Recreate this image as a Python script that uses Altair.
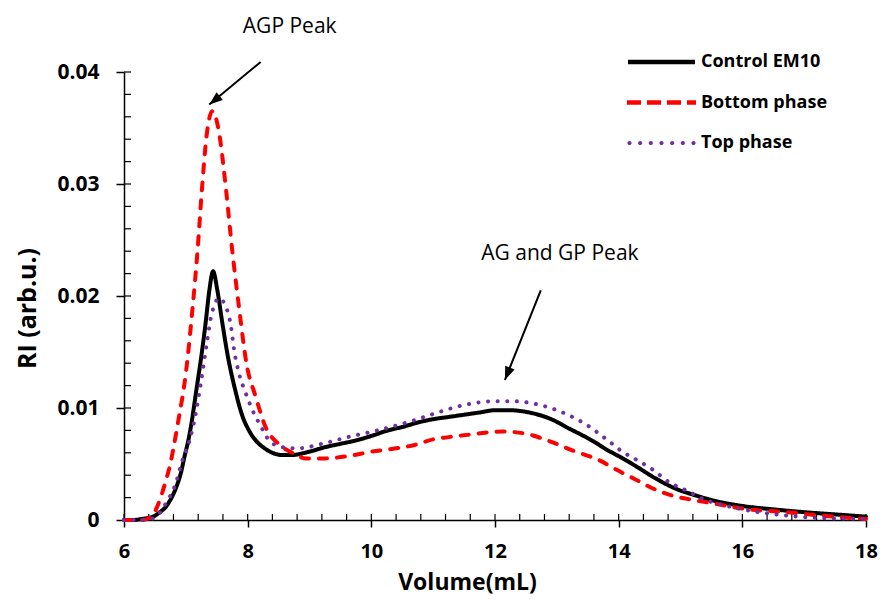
import altair as alt
import pandas as pd

# ---------------- data ----------------
series_names = ["Control EM10", "Bottom phase", "Top phase"]
series_colors = ["#000000", "#FF0000", "#7030A0"]
series_dash = [[1, 0], [8, 10], [0.1, 9.5]]

control_v = [6.0, 6.15, 6.3, 6.47, 6.58, 6.68, 6.77, 6.85, 6.92, 6.98, 7.04, 7.09, 7.17, 7.25,
             7.32, 7.38, 7.44, 7.51, 7.59, 7.68, 7.79, 7.92, 8.02, 8.13, 8.25, 8.4, 8.55, 8.7,
             9.0, 9.25, 9.5, 9.75, 10.0, 10.27, 10.5, 10.75, 11.0, 11.25, 11.5, 11.75, 12.0,
             12.25, 12.45, 12.7, 12.95, 13.15, 13.4, 13.6, 13.8, 14.0, 14.28, 14.6, 14.92,
             15.24, 15.56, 16.0, 16.5, 17.0, 17.5, 18.0]
control_ri = [0.0, 0.0, 0.0001, 0.0003, 0.0007, 0.0012, 0.0020, 0.0030, 0.0042, 0.0057, 0.0071,
              0.0086, 0.0116, 0.0146, 0.0176, 0.0205, 0.0222, 0.0205, 0.0176, 0.0146, 0.0118,
              0.0092, 0.0080, 0.0071, 0.0065, 0.0060, 0.0058, 0.0058, 0.0061, 0.0065, 0.0068,
              0.0071, 0.0075, 0.0080, 0.0083, 0.0087, 0.0090, 0.0092, 0.0094, 0.0096, 0.0098,
              0.0098, 0.0097, 0.0094, 0.0089, 0.0083, 0.0076, 0.0070, 0.0063, 0.0057, 0.0048,
              0.0037, 0.0028, 0.0022, 0.0017, 0.00125, 0.00095, 0.0007, 0.0005, 0.0003]

bottom_v = [6.0, 6.3, 6.44, 6.58, 6.66, 6.74, 6.87, 7.0, 7.11, 7.19, 7.26, 7.34, 7.43, 7.54,
            7.65, 7.75, 7.86, 7.98, 8.13, 8.29, 8.5, 8.72, 8.95, 9.25, 9.62, 10.0, 10.4, 10.7,
            11.0, 11.25, 11.55, 11.85, 12.12, 12.5, 12.85, 13.26, 13.7, 13.96, 14.28, 14.6,
            14.92, 15.19, 15.51, 16.1, 16.63, 17.17, 17.7, 18.0]
bottom_ri = [0.0, 0.0, 0.0003, 0.0018, 0.0032, 0.0048, 0.0086, 0.0131, 0.0190, 0.0241, 0.0295,
             0.0345, 0.0365, 0.0345, 0.0295, 0.0241, 0.0190, 0.0140, 0.0110, 0.0083, 0.0068,
             0.0060, 0.0055, 0.0055, 0.0057, 0.0061, 0.0064, 0.0067, 0.0072, 0.0074, 0.0076,
             0.0078, 0.0079, 0.0077, 0.0071, 0.0062, 0.0053, 0.0045, 0.0036, 0.0027, 0.0021,
             0.0018, 0.0015, 0.00095, 0.00074, 0.00045, 0.0002, 0.0001]

top_v = [6.0, 6.35, 6.52, 6.6, 6.68, 6.82, 6.95, 7.06, 7.17, 7.25, 7.34, 7.41, 7.54, 7.65,
         7.73, 7.78, 7.86, 7.97, 8.07, 8.2, 8.35, 8.56, 8.82, 9.2, 9.62, 10.1, 10.69, 11.02,
         11.45, 11.98, 12.3, 12.62, 13.05, 13.48, 13.85, 14.06, 14.28, 14.55, 14.81, 15.11,
         15.4, 15.72, 16.15, 16.63, 17.17, 17.97]
top_ri = [0.0, 0.0, 0.0003, 0.0008, 0.0015, 0.0030, 0.0054, 0.0071, 0.0098, 0.0125, 0.0158,
          0.0182, 0.0198, 0.0190, 0.0173, 0.0152, 0.0131, 0.0113, 0.0099, 0.0085, 0.0071,
          0.0065, 0.0064, 0.0068, 0.0074, 0.0080, 0.0089, 0.0095, 0.0102, 0.0106, 0.0106,
          0.0104, 0.0097, 0.0085, 0.0070, 0.0061, 0.0054, 0.0045, 0.0034, 0.0026, 0.0018,
          0.0013, 0.0008, 0.00045, 0.0002, 0.0001]

x_major = [6, 8, 10, 12, 14, 16, 18]
y_major = [0, 0.01, 0.02, 0.03, 0.04]
x_minor = [6 + 0.4 * i for i in range(31)]
y_minor = [0.002 * i for i in range(21)]

ann_labels = ["AGP Peak", "AG and GP Peak"]
ann_v = [8.68, 13.05]
ann_ri = [0.0440, 0.02375]

arrow_v0 = [8.21, 12.74]
arrow_ri0 = [0.0409, 0.0205]
arrow_v1 = [7.38, 12.16]
arrow_ri1 = [0.0371, 0.0125]
arrow_angle = [231, 202]

# ---------------- legend symbol glyphs (style only) ----------------
LEG_SIZE = 1550
R = LEG_SIZE ** 0.5 / 2.0  # unit -> px factor used by Vega for custom symbol paths


def u(px):
    return round(px / R, 4)


def rect(x0, x1, half=2.2):
    return f"M{u(x0)},{u(-half)}H{u(x1)}V{u(half)}H{u(x0)}Z"


def dot(cx, rad=2.1):
    return (f"M{u(cx - rad)},0a{u(rad)},{u(rad)} 0 1,0 {u(2 * rad)},0"
            f"a{u(rad)},{u(rad)} 0 1,0 {u(-2 * rad)},0Z")


glyph_solid = rect(-33.5, 33.5)
glyph_dash = "".join(rect(-34.5 + a, -34.5 + b) for a, b in [(0, 14), (20, 34), (40, 54), (60, 69)])
glyph_dot = "".join(dot(-32 + 10.67 * k) for k in range(7))
legend_glyphs = [glyph_solid, glyph_dash, glyph_dot]

# ---------------- build tables ----------------
rows = []
for name, vs, rs in zip(series_names, [control_v, bottom_v, top_v], [control_ri, bottom_ri, top_ri]):
    for v, r in zip(vs, rs):
        rows.append({"series": name, "v": v, "ri": r})
df = pd.DataFrame(rows)

ann_df = pd.DataFrame({"v": ann_v, "ri": ann_ri, "label": ann_labels})
arr_df = pd.DataFrame({"v0": arrow_v0, "r0": arrow_ri0, "v1": arrow_v1, "r1": arrow_ri1,
                       "ang": arrow_angle})
xt_df = pd.DataFrame({"t": x_minor})
yt_df = pd.DataFrame({"t": y_minor})
key_df = pd.DataFrame({"series": series_names})

W, H = 742, 448
FONT = "Open Sans"

x_scale = alt.Scale(domain=[6, 18], nice=False, zero=False)
y_scale = alt.Scale(domain=[0, 0.04], nice=False)

x_axis = alt.Axis(
    values=x_major, format="d", grid=False,
    labelFont=FONT, labelFontWeight="bold", labelFontSize=20, labelColor="#000",
    labelPadding=14, labelFlush=False,
    tickSize=7, tickWidth=1.5, tickColor="#000", domainColor="#000", domainWidth=1.5,
    title="Volume(mL)", titleFont=FONT, titleFontWeight="bold", titleFontSize=23,
    titleColor="#000", titleX=343, titleY=62.5, titleBaseline="middle", titleAlign="center")
y_axis = alt.Axis(
    values=y_major, grid=False,
    labelExpr="datum.value == 0 ? '0' : format(datum.value, '.2f')",
    labelFont=FONT, labelFontWeight="bold", labelFontSize=21, labelColor="#000",
    labelPadding=17, labelFlush=False,
    tickSize=8, tickWidth=1.5, tickColor="#000", domainColor="#000", domainWidth=1.5,
    title="RI (arb.u.)", titleFont=FONT, titleFontWeight="bold", titleFontSize=25,
    titleColor="#000", titleX=-97, titleY=236, titleBaseline="middle", titleAlign="center",
    titleAngle=270)

legend = alt.Legend(
    title=None, orient="none", legendX=517.5, legendY=-30,
    symbolSize=LEG_SIZE, symbolStrokeWidth=0, symbolOpacity=1,
    labelFont=FONT, labelFontWeight="bold", labelFontSize=18, labelColor="#000",
    labelOffset=19.5, rowPadding=11.5, padding=0,
)

# line scales list the series in reverse so they stay apart from the legend's scales
line_domain = series_names[::-1]
line_colors = series_colors[::-1]
line_dash = series_dash[::-1]

lines = alt.Chart(df).mark_line(
    strokeWidth=4, strokeCap="round", strokeJoin="round", interpolate="monotone"
).encode(
    x=alt.X("v:Q", scale=x_scale, axis=x_axis),
    y=alt.Y("ri:Q", scale=y_scale, axis=y_axis),
    color=alt.Color("series:N", scale=alt.Scale(domain=line_domain, range=line_colors),
                    legend=None),
    strokeDash=alt.StrokeDash("series:N", scale=alt.Scale(domain=line_domain, range=line_dash),
                              legend=None),
)

# key layer: draws nothing in the plot (filtered out), only carries the legend
legend_carrier = alt.Chart(key_df).mark_point(filled=True, strokeWidth=0).encode(
    fill=alt.Fill("series:N", scale=alt.Scale(domain=series_names, range=series_colors),
                  legend=legend),
    shape=alt.Shape("series:N", scale=alt.Scale(domain=series_names, range=legend_glyphs),
                    legend=legend),
).transform_filter("datum.series == 'none'")

y_ticks = alt.Chart(yt_df).mark_rule(color="#000", strokeWidth=1.2).encode(
    y=alt.Y("t:Q", scale=y_scale, axis=y_axis),
    x=alt.value(0), x2=alt.value(7),
)
x_ticks = alt.Chart(xt_df).mark_rule(color="#000", strokeWidth=1.2).encode(
    x=alt.X("t:Q", scale=x_scale, axis=x_axis),
    y=alt.value(H), y2=alt.value(H - 6),
)

ann = alt.Chart(ann_df).mark_text(font=FONT, fontSize=21, color="#000",
                                  align="center", baseline="middle").encode(
    x=alt.X("v:Q", scale=x_scale, axis=x_axis),
    y=alt.Y("ri:Q", scale=y_scale, axis=y_axis),
    text="label:N",
)

arrow_lines = alt.Chart(arr_df).mark_rule(color="#000", strokeWidth=2).encode(
    x=alt.X("v0:Q", scale=x_scale, axis=x_axis), y=alt.Y("r0:Q", scale=y_scale, axis=y_axis),
    x2="v1:Q", y2="r1:Q",
)
arrow_heads = alt.Chart(arr_df).mark_point(
    shape="M0,0L0.55,1.45L-0.55,1.45Z", filled=True, size=340, color="#000", opacity=1,
    strokeWidth=0,
).encode(
    x=alt.X("v1:Q", scale=x_scale, axis=x_axis), y=alt.Y("r1:Q", scale=y_scale, axis=y_axis),
    angle=alt.Angle("ang:Q", scale=None),
)

chart = alt.layer(y_ticks, x_ticks, lines, legend_carrier, arrow_lines, arrow_heads, ann).properties(
    width=W, height=H,
    autosize=alt.AutoSizeParams(type="none"),
    padding={"left": 116, "top": 64, "right": 13, "bottom": 76},
    background="white",
).configure_view(stroke=None)

chart.save("out.html", embed_options={"renderer": "svg", "actions": False})
